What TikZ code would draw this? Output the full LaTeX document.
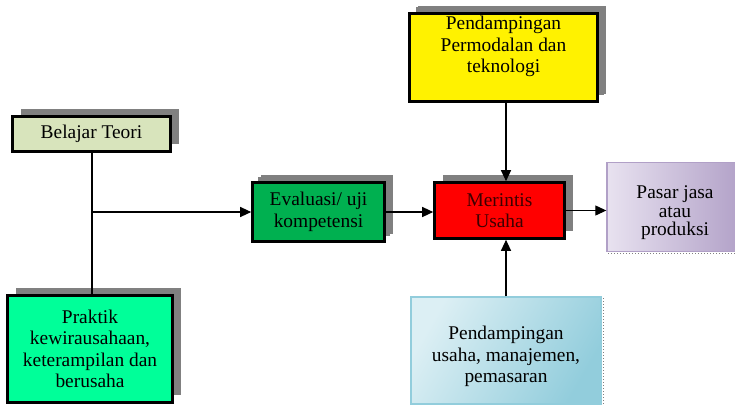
\documentclass[tikz,border=0pt]{standalone}
\usepackage{fontspec}
\setmainfont{Liberation Serif}
\usepackage{tikz}
\usetikzlibrary{arrows.meta,shadows,calc}
\definecolor{teorig}{RGB}{216,228,188}
\definecolor{praktg}{RGB}{0,255,153}
\definecolor{evalg}{RGB}{0,176,80}
\definecolor{maroon}{RGB}{60,0,0}
\definecolor{lila}{RGB}{177,160,199}
\definecolor{lilalt}{RGB}{232,226,240}
\definecolor{biru}{RGB}{146,205,220}
\definecolor{birult}{RGB}{220,239,244}
\tikzset{
  txt/.style={align=center,font=\fontsize{19.4}{21.5}\selectfont,inner sep=0pt},
  shbox/.style={txt,draw=black,line width=2.6pt,
    drop shadow={shadow xshift=8pt,shadow yshift=8pt,fill=gray,opacity=1}},
  gbox/.style={txt,line width=1.4pt},
  arr/.style={-{Triangle[length=11pt,width=10pt]},line width=1.2pt}
}
\begin{document}
\begin{tikzpicture}[x=1pt,y=-1pt]
\useasboundingbox[fill=white] (0,0) rectangle (735,413);
% kotak utama
\node[shbox,fill=teorig,minimum width=158pt,minimum height=35pt] (teori) at (91.5,134) {Belajar Teori};
\node[shbox,fill=praktg,minimum width=165pt,minimum height=107pt] (praktik) at (90,349)
  {Praktik\\kewirausahaan,\\keterampilan dan\\berusaha};
\node[shbox,fill=evalg,minimum width=132pt,minimum height=59pt,
  drop shadow={shadow xshift=5pt,shadow yshift=6pt,fill=gray,opacity=1}] (eval) at (318.5,212)
  {Evaluasi/ uji\\kompetensi};
\node[shbox,fill=yellow,minimum width=188pt,minimum height=88pt,
  drop shadow={shadow xshift=6pt,shadow yshift=7pt,fill=gray,opacity=1}] (perm) at (503.5,57.5)
  {Pendampingan\\Permodalan dan\\teknologi\\[4pt]};
\node[shbox,fill=red,text=maroon,minimum width=130pt,minimum height=56pt] (meri) at (499.5,210.5)
  {Merintis\\Usaha};
% kotak bergradasi
\node[gbox,draw=lila,left color=lilalt,right color=lila,minimum width=136pt,minimum height=89pt] (pasar) at (675,207) {};
\draw[gray,dotted,line width=1pt] ($(pasar.south west)+(2,1.5)$) -- ($(pasar.south east)+(0,1.5)$);
\node[txt,font=\fontsize{19.4}{18.5}\selectfont] (pasartxt) at (675,213) {Pasar jasa\\atau\\produksi};
\node[gbox,draw=biru,left color=birult,right color=biru,shading angle=60,minimum width=190pt,minimum height=107pt] (usaha) at (506,350.5)
  {\\[4pt]Pendampingan\\usaha, manajemen,\\pemasaran};
\draw[gray,dotted,line width=1pt] ($(usaha.north east)+(2,2)$) -- ($(usaha.south east)+(2,0)$);
% garis penghubung
\coordinate (jn) at (teori.south |- eval.west);
\draw[line width=2pt] (teori.south) -- (teori.south |- praktik.north);
\draw[arr] (jn) -- (eval.west);
\draw[arr] (eval.east) -- (eval.east -| meri.west);
\draw[arr] (meri.east) -- (meri.east -| pasar.west);
\draw[arr] (perm.south -| usaha.north) -- (meri.north -| usaha.north);
\draw[arr] (usaha.north) -- (meri.south -| usaha.north);
\end{tikzpicture}
\end{document}
